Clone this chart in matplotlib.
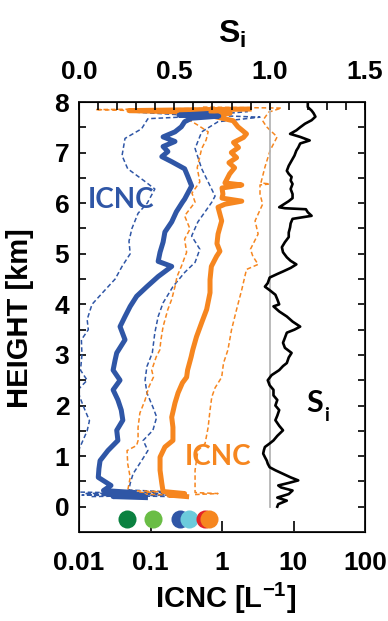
import matplotlib.pyplot as plt
from matplotlib.ticker import FixedLocator, NullFormatter, LogLocator

plt.rcParams['font.family'] = ['Liberation Sans', 'DejaVu Sans']
plt.rcParams['font.weight'] = 'bold'
plt.rcParams['mathtext.fontset'] = 'custom'
plt.rcParams['mathtext.bf'] = 'Liberation Sans:bold'
plt.rcParams['mathtext.rm'] = 'Liberation Sans:bold'
plt.rcParams['mathtext.it'] = 'Liberation Sans:bold'

# ICNC profiles (height in km, ICNC in L-1)
blue_med_h = [0.18, 0.20, 0.22, 0.25, 0.28, 0.32, 0.42, 0.58, 0.75, 0.91, 1.11, 1.31, 1.51, 1.71, 1.91,
              2.11, 2.31, 2.50, 2.70, 2.90, 3.04, 3.30, 3.56, 3.76, 3.96, 4.16, 4.35, 4.55, 4.75, 4.85,
              5.03, 5.23, 5.43, 5.63, 5.83, 6.02, 6.08, 6.34, 6.54, 6.68, 6.82, 6.92, 7.02, 7.12, 7.22,
              7.31, 7.41, 7.51, 7.61, 7.68, 7.72, 7.74, 7.77]
blue_med = [0.085, 0.03, 0.08, 0.025, 0.06, 0.022, 0.028, 0.0186, 0.019, 0.0197, 0.0254, 0.035, 0.0337,
            0.041, 0.039, 0.035, 0.030, 0.0375, 0.030, 0.032, 0.0337, 0.044, 0.0375, 0.044, 0.052, 0.064,
            0.089, 0.128, 0.198, 0.128, 0.136, 0.15, 0.159, 0.198, 0.23, 0.28, 0.30, 0.376, 0.33, 0.30,
            0.198, 0.144, 0.175, 0.15, 0.22, 0.15, 0.22, 0.27, 0.30, 0.376, 0.9, 0.25, 0.6]

blue_lo_h = [0.20, 0.23, 0.26, 0.29, 0.5, 1.0, 1.2, 1.5, 1.7, 2.0, 2.3, 2.5, 2.7, 3.0, 3.3, 3.5, 3.7, 4.0,
             4.25, 4.5, 4.75, 5.0, 5.25, 5.5, 5.8, 6.0, 6.28, 6.45, 6.68, 6.94, 7.28, 7.47, 7.67, 7.72, 7.77, 7.80]
blue_lo = [0.2, 0.011, 0.15, 0.009, 0.008, 0.009, 0.0105, 0.013, 0.014, 0.0114, 0.0095, 0.013, 0.0105,
           0.011, 0.0108, 0.0135, 0.013, 0.0152, 0.022, 0.032, 0.04, 0.052, 0.05, 0.055, 0.067, 0.09,
           0.115, 0.08, 0.048, 0.04, 0.044, 0.075, 0.092, 0.5, 0.14, 0.06]

blue_hi_h = [0.20, 0.23, 0.26, 0.29, 0.33, 0.46, 0.65, 0.91, 1.11, 1.31, 1.51, 1.77, 1.97, 2.25, 2.50,
             2.77, 3.04, 3.44, 3.76, 4.03, 4.35, 4.63, 4.83, 5.09, 5.35, 5.63, 5.83, 6.02, 6.14, 6.42,
             6.68, 7.08, 7.41, 7.61, 7.70, 7.74, 7.81]
blue_hi = [0.015, 0.2, 0.012, 0.22, 0.05, 0.052, 0.057, 0.075, 0.092, 0.079, 0.108, 0.122, 0.108, 0.089,
           0.084, 0.089, 0.106, 0.115, 0.128, 0.15, 0.206, 0.30, 0.42, 0.49, 0.376, 0.46, 0.58, 0.72,
           0.8, 0.64, 0.52, 0.42, 0.52, 0.88, 3.4, 0.6, 2.3]

orange_med_h = [0.20, 0.23, 0.26, 0.30, 0.46, 0.72, 0.98, 1.18, 1.31, 1.57, 1.77, 2.05, 2.25, 2.45, 2.56,
                2.70, 2.96, 3.10, 3.36, 3.64, 3.90, 4.23, 4.49, 4.75, 4.95, 5.05, 5.20, 5.39, 5.65, 5.92,
                5.98, 6.04, 6.10, 6.18, 6.30, 6.36, 6.40, 6.58, 6.70, 6.80, 6.90, 7.00, 7.10, 7.20, 7.30,
                7.37, 7.51, 7.63, 7.72, 7.78, 7.83, 7.86]
orange_med = [0.32, 0.18, 0.30, 0.15, 0.144, 0.136, 0.136, 0.159, 0.206, 0.206, 0.198, 0.22, 0.243, 0.28,
              0.32, 0.33, 0.37, 0.39, 0.44, 0.52, 0.61, 0.68, 0.68, 0.71, 0.84, 0.935, 0.85, 0.88, 0.99,
              0.88, 1.1, 1.89, 1.0, 1.03, 1.0, 1.89, 1.1, 1.28, 1.5, 1.25, 1.6, 1.35, 1.7, 1.45, 2.0,
              2.2, 1.67, 1.43, 0.75, 1.3, 0.05, 2.4]

orange_lo_h = [0.22, 0.26, 0.30, 0.32, 0.58, 0.85, 1.11, 1.21, 1.31, 1.57, 1.85, 2.11, 2.37, 2.56, 2.70,
               2.96, 3.10, 3.30, 3.56, 3.90, 4.10, 4.35, 4.55, 4.75, 5.03, 5.29, 5.49, 5.75, 6.02, 6.20,
               6.42, 6.70, 7.08, 7.25, 7.41, 7.55, 7.70, 7.80, 7.85, 7.88]
orange_lo = [0.3, 0.05, 0.13, 0.048, 0.052, 0.048, 0.047, 0.064, 0.067, 0.067, 0.071, 0.084, 0.095, 0.11,
             0.104, 0.12, 0.135, 0.14, 0.15, 0.175, 0.198, 0.22, 0.235, 0.27, 0.32, 0.30, 0.357, 0.30,
             0.42, 0.38, 0.49, 0.45, 0.52, 0.6, 0.64, 0.45, 0.30, 0.4, 0.017, 1.5]

orange_hi_h = [0.24, 0.26, 0.28, 0.46, 0.72, 1.11, 1.25, 1.57, 1.91, 2.17, 2.35, 2.56, 2.84, 3.10, 3.50,
               3.90, 4.29, 4.69, 4.79, 4.95, 5.09, 5.39, 5.65, 5.98, 6.18, 6.36, 6.38, 6.40, 6.72, 7.04,
               7.31, 7.51, 7.63, 7.80, 7.88, 7.90]
orange_hi = [0.42, 0.88, 0.42, 0.42, 0.42, 0.46, 0.58, 0.64, 0.68, 0.72, 0.8, 0.99, 1.05, 1.21, 1.36,
             1.6, 1.89, 2.2, 3.2, 2.7, 2.5, 3.2, 2.9, 3.7, 3.4, 3.4, 4.7, 3.5, 4.0, 4.7, 5.9, 4.2, 3.7,
             4.5, 6.8, 0.5]

# ice saturation ratio profile
si_h = [0.00, 0.05, 0.12, 0.18, 0.25, 0.32, 0.38, 0.42, 0.47, 0.52, 0.58, 0.65, 0.72, 0.78, 0.85, 0.91,
        0.98, 1.05, 1.12, 1.18, 1.25, 1.31, 1.40, 1.51, 1.60, 1.71, 1.80, 1.91, 2.00, 2.11, 2.20, 2.31,
        2.40, 2.50, 2.60, 2.70, 2.78, 2.84, 2.95, 3.04, 3.14, 3.24, 3.34, 3.44, 3.50, 3.56, 3.66, 3.76,
        3.86, 3.96, 4.00, 4.10, 4.19, 4.28, 4.35, 4.42, 4.53, 4.60, 4.65, 4.72, 4.79, 4.86, 4.93, 5.03,
        5.13, 5.23, 5.33, 5.42, 5.52, 5.60, 5.69, 5.75, 5.82, 5.88, 5.90, 5.92, 6.04, 6.10, 6.18, 6.28,
        6.38, 6.45, 6.52, 6.58, 6.64, 6.74, 6.84, 6.94, 7.04, 7.10, 7.18, 7.24, 7.31, 7.37, 7.44, 7.50,
        7.57, 7.64, 7.71, 7.78, 7.83, 7.90, 7.97]
si = [1.04, 1.045, 1.09, 1.04, 1.10, 1.12, 1.06, 1.045, 1.10, 1.15, 1.11, 1.07, 1.03, 1.00, 0.99, 0.985,
      0.975, 0.966, 0.97, 0.975, 1.00, 1.02, 1.04, 1.07, 1.05, 1.03, 1.04, 1.05, 1.03, 1.04, 1.02, 1.02,
      1.00, 0.99, 1.01, 1.05, 1.07, 1.09, 1.10, 1.115, 1.08, 1.07, 1.08, 1.09, 1.13, 1.16, 1.12, 1.09,
      1.05, 1.02, 1.05, 1.04, 1.03, 1.00, 0.975, 0.99, 1.00, 1.04, 1.07, 1.11, 1.14, 1.11, 1.09, 1.07,
      1.064, 1.08, 1.10, 1.10, 1.107, 1.11, 1.12, 1.22, 1.20, 1.19, 1.08, 1.05, 1.10, 1.12, 1.12, 1.11,
      1.12, 1.11, 1.115, 1.10, 1.09, 1.10, 1.115, 1.13, 1.14, 1.15, 1.16, 1.21, 1.16, 1.107, 1.14, 1.16,
      1.185, 1.22, 1.24, 1.23, 1.22, 1.20, 1.20]

# coloured dots below the ground
dot_x = [0.047, 0.109, 0.258, 0.34, 0.58, 0.66]
dot_colors = ['#0b8140', '#6abd45', '#2f56a6', '#6ccbdc', '#e42328', '#f6861f']
dot_y = -0.24

BLUE = '#2f56a6'
ORANGE = '#f6861f'

fig = plt.figure(figsize=(3.88, 6.21), dpi=100)
ax = fig.add_axes([79 / 388, 89 / 621, 286 / 388, 430 / 621])
ax.set_xscale('log')

dash = (0, (3, 1.8))
ax.plot(blue_lo, blue_lo_h, color=BLUE, lw=1.1, ls=dash)
ax.plot(blue_hi, blue_hi_h, color=BLUE, lw=1.1, ls=dash)
ax.plot(orange_lo, orange_lo_h, color=ORANGE, lw=1.1, ls=dash)
ax.plot(orange_hi, orange_hi_h, color=ORANGE, lw=1.1, ls=dash)
ax.plot(orange_med, orange_med_h, color=ORANGE, lw=3.6, solid_joinstyle='round')
ax.plot(blue_med, blue_med_h, color=BLUE, lw=3.6, solid_joinstyle='round')

for xv, c in zip(dot_x, dot_colors):
    ax.plot(xv, dot_y, 'o', ms=13, color=c, mec='none')

ax.set_xlim(0.01, 100)
ax.set_ylim(-0.5, 8)
ax.set_xticks([0.01, 0.1, 1, 10, 100])
ax.set_xticklabels(['0.01', '0.1', '1', '10', '100'])
ax.xaxis.set_minor_locator(LogLocator(base=10, subs=range(2, 10)))
ax.xaxis.set_minor_formatter(NullFormatter())
ax.set_yticks(range(0, 9))
ax.yaxis.set_minor_locator(FixedLocator([0.5 + i for i in range(8)]))
ax.tick_params(axis='x', which='major', direction='in', length=8, width=1.2, labelsize=19, pad=14)
ax.tick_params(axis='x', which='minor', direction='in', length=4.5, width=1.0)
ax.tick_params(axis='y', which='both', direction='in', length=5, width=1.2, right=True,
               labelsize=19, pad=7)
for s in ax.spines.values():
    s.set_linewidth(1.4)
    s.set_color('#222222')

ax.text(0.0387, 6.06, 'ICNC', color=BLUE, fontsize=20, fontweight='bold', family='Lato',
        ha='center', va='center')
ax.text(0.88, 0.99, 'ICNC', color=ORANGE, fontsize=20, fontweight='bold', family='Lato',
        ha='center', va='center')

ax2 = ax.twiny()
ax2.plot([1.0, 1.0], [0, 8], color='#b5b5b5', lw=1.3, zorder=1)
ax2.plot(si, si_h, color='black', lw=1.9)
ax2.set_xlim(0, 1.5)
ax2.set_xticks([0.0, 0.5, 1.0, 1.5])
ax2.set_xticklabels(['0.0', '0.5', '1.0', '1.5'])
ax2.xaxis.set_minor_locator(FixedLocator([i / 10 for i in range(1, 15)]))
ax2.tick_params(axis='x', which='both', direction='in', length=5.5, width=1.2, labelsize=19, pad=13)
ax2.text(1.238, 2.05, 'S', fontsize=22, fontweight='bold', family='Lato', ha='center', va='center')
ax2.text(1.30, 1.8, 'i', fontsize=14, fontweight='bold', family='Lato', ha='center', va='center')

fig.text(232 / 388, 1 - 34 / 621, r'$\mathbf{S_i}$', fontsize=23, ha='center', va='center')
fig.text(226 / 388, 1 - 598 / 621, r'ICNC [L$^{\mathbf{-1}}$]', fontsize=21, fontweight='bold',
         ha='center', va='center')
fig.text(20 / 388, 1 - 318 / 621, 'HEIGHT [km]', fontsize=21, fontweight='bold', rotation=90,
         ha='center', va='center')

fig.savefig('out.png', dpi=100)
